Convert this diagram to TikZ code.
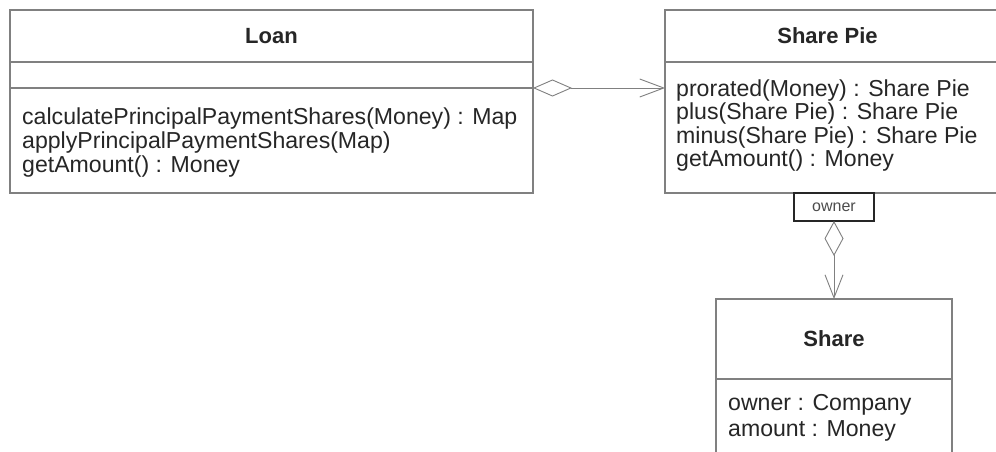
\documentclass[tikz,border=0pt]{standalone}
\usepackage{fontspec}
\setmainfont{Liberation Sans}
\usetikzlibrary{arrows.meta}
\definecolor{linegray}{HTML}{808080}
\definecolor{textc}{HTML}{262626}
\begin{document}
\begin{tikzpicture}[x=1pt,y=-1pt,
  box/.style={draw=linegray,line width=1.3pt,inner sep=0pt,outer sep=0pt},
  sep/.style={draw=linegray,line width=1.3pt},
  conn/.style={draw=linegray,line width=0.9pt},
  meth/.style={anchor=base west,inner sep=0pt,font=\fontsize{23.1}{24}\selectfont,text=textc},
  ttl/.style={anchor=base,inner sep=0pt,font=\fontsize{22}{24}\selectfont\bfseries,text=textc},
  qual/.style={draw=textc,line width=1.4pt,inner sep=0pt,outer sep=0pt,minimum width=80pt,minimum height=28pt,font=\fontsize{16}{18}\selectfont,text=black!70}]
\useasboundingbox (0,0) rectangle (996,452);
\clip (0,0) rectangle (996,452);
\fill[white] (0,0) rectangle (996,452);
% boxes
\node[box,minimum width=523pt,minimum height=183pt] (loan) at (271.5,101.5) {};
\node[box,minimum width=345pt,minimum height=183pt] (pie) at (837.5,101.5) {};
\node[box,minimum width=236pt,minimum height=172pt] (share) at (834,385) {};
\node[qual] (q) at (834,207) {owner};
% separators
\draw[sep] (loan.west |- 0,62) -- (loan.east |- 0,62);
\draw[sep] (loan.west |- 0,88) -- (loan.east |- 0,88);
\draw[sep] (pie.west |- 0,62) -- (pie.east |- 0,62);
\draw[sep] (share.west |- 0,379) -- (share.east |- 0,379);
% titles
\node[ttl] (tloan) at (271.5,44) {Loan};
\node[ttl] (tpie) at (827.5,44) {Share Pie};
\node[ttl] (tshare) at (834,346) {Share};
% Loan operations
\node[meth] (l1) at (22,124) {calculatePrincipalPaymentShares(Money) : Map};
\node[meth] (l2) at (22,148) {applyPrincipalPaymentShares(Map)};
\node[meth] (l3) at (22,172) {getAmount() : Money};
% Share Pie operations
\node[meth] (p1) at (676,96) {prorated(Money) : Share Pie};
\node[meth] (p2) at (676,119.5) {plus(Share Pie) : Share Pie};
\node[meth] (p3) at (676,143) {minus(Share Pie) : Share Pie};
\node[meth] (p4) at (676,166.5) {getAmount() : Money};
% Share attributes
\node[meth] (s1) at (728,410) {owner : Company};
\node[meth] (s2) at (728,436) {amount : Money};
% connectors
\draw[conn,{Diamond[open,length=39pt,width=17pt]}-{Straight Barb[length=24pt,width=18pt]}]
  (loan.east |- 0,88) -- (pie.west |- 0,88);
\draw[conn,{Diamond[open,length=35pt,width=19pt]}-{Straight Barb[length=23pt,width=18pt]}]
  (q.south) -- (share.north);
\end{tikzpicture}
\end{document}
